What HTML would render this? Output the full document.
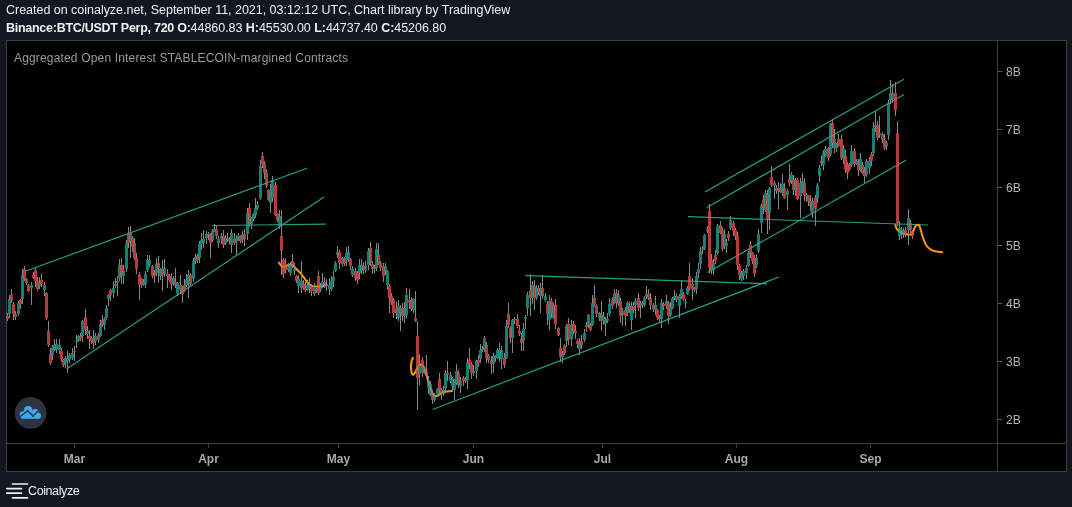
<!DOCTYPE html>
<html><head><meta charset="utf-8"><title>Coinalyze chart</title>
<style>
html,body{margin:0;padding:0;background:#131722;}
body{width:1072px;height:507px;position:relative;overflow:hidden;font-family:"Liberation Sans",sans-serif;color:#fff;}
.t{position:absolute;white-space:nowrap;line-height:1;will-change:transform;}
#l1{left:6px;top:4px;font-size:12.5px;color:#f0f0f0;letter-spacing:-0.02px;}
#l2{left:6px;top:22px;font-size:12.5px;color:#f0f0f0;letter-spacing:-0.04px;}
#l2 b.p{letter-spacing:-0.27px;}
#frame{position:absolute;left:6px;top:40px;width:1059px;height:430px;border:1px solid #3e3d3b;background:#000;}
#chart{position:absolute;left:0;top:0;width:1072px;height:507px;}
#chart text{font-family:"Liberation Sans",sans-serif;}
#brand{left:28px;top:485px;font-size:12.5px;color:#f0f0f0;letter-spacing:-0.4px;}
</style></head><body>
<div class="t" id="l1">Created on coinalyze.net, September 11, 2021, 03:12:12 UTC, Chart library by TradingView</div>
<div class="t" id="l2"><b class="p">Binance:BTC/USDT Perp, 720 O:</b>44860.83 <b>H:</b>45530.00 <b>L:</b>44737.40 <b>C:</b>45206.80</div>
<div id="frame"></div>
<svg id="chart" width="1072" height="507" viewBox="0 0 1072 507">
<!-- axes -->
<g shape-rendering="crispEdges" stroke="#3e3d3b" stroke-width="1" fill="none">
<path d="M7 443.5H1066"/>
<path d="M997.5 41V471"/>
<path d="M998 71.5H1002M998 129.5H1002M998 187.5H1002M998 245.5H1002M998 303.5H1002M998 361.5H1002M998 419.5H1002" stroke="#5a5c61"/>
<path d="M74.5 444V448M208.5 444V448M338.5 444V448M473.5 444V448M602.5 444V448M736.5 444V448M870.5 444V448"/>
</g>
<g font-size="12" fill="#b4b4b4">
<text x="1006" y="76">8B</text><text x="1006" y="134">7B</text><text x="1006" y="192">6B</text><text x="1006" y="250">5B</text><text x="1006" y="308">4B</text><text x="1006" y="366">3B</text><text x="1006" y="424">2B</text>
</g>
<g font-size="12" font-weight="bold" fill="#a8a8a8" text-anchor="middle">
<text x="74.5" y="462.5">Mar</text><text x="208.5" y="462.5">Apr</text><text x="338.5" y="462.5">May</text><text x="473.5" y="462.5">Jun</text><text x="602.5" y="462.5">Jul</text><text x="736.5" y="462.5">Aug</text><text x="870.5" y="462.5">Sep</text>
</g>
<text x="14" y="62" font-size="12" fill="#9a9a9a" textLength="334" lengthAdjust="spacing">Aggregated Open Interest STABLECOIN-margined Contracts</text>
<!-- trend lines -->
<g stroke="#24a892" stroke-opacity=".95" stroke-width="1.2" fill="none">
<path d="M26 271L307 168.3"/>
<path d="M66.5 369L324 197"/>
<path d="M212.5 225.5L326 224.2"/>
<path d="M432.5 409.5L779 277"/>
<path d="M525.5 275.7L767 283.8"/>
<path d="M688 216.7L928 225"/>
<path d="M705 192L904 79.2"/>
<path d="M707 207.5L904 94.5"/>
<path d="M707.5 272.5L906.3 160"/>
</g>
<!-- orange projections -->
<g stroke="#ff9800" stroke-width="2" fill="none" stroke-linecap="round" stroke-linejoin="round">
<path d="M278.9 262.5C279.3 263.0 280.3 265.0 281.2 265.7C282.1 266.4 283.1 267.0 284.2 266.9C285.3 266.8 286.6 265.7 287.7 265.3C288.8 264.9 289.7 264.3 290.7 264.5C291.7 264.7 292.5 265.4 293.6 266.3C294.7 267.2 296.0 268.6 297.2 269.8C298.4 271.0 299.5 272.0 300.7 273.4C301.9 274.8 303.1 276.5 304.3 278.1C305.5 279.7 306.6 281.5 307.8 282.8C309.0 284.1 310.1 285.2 311.4 285.8C312.7 286.4 314.1 286.5 315.5 286.6C316.9 286.7 318.2 286.5 319.6 286.4C321.0 286.3 322.7 286.1 323.8 285.8C324.9 285.5 325.7 284.8 326.1 284.6"/>
<path d="M412.9 357.9C412.7 358.4 411.9 359.6 411.6 361.0C411.3 362.4 411.1 364.3 411.0 366.0C410.9 367.7 411.1 369.6 411.3 371.0C411.5 372.4 411.9 373.6 412.3 374.2C412.7 374.8 413.1 374.9 413.5 374.6C413.9 374.3 414.4 373.4 415.0 372.5C415.6 371.6 416.2 370.1 416.8 369.0C417.4 367.9 418.0 366.7 418.5 366.0C419.0 365.3 419.4 364.8 420.0 364.6C420.6 364.4 421.1 364.6 421.8 365.0C422.5 365.4 423.4 366.0 424.0 367.2C424.6 368.4 424.8 369.9 425.5 372.0C426.2 374.1 427.1 377.0 428.0 380.0C428.9 383.0 430.1 387.5 431.0 390.0C431.9 392.5 432.7 393.8 433.5 394.8C434.3 395.8 435.2 396.1 436.0 396.2C436.8 396.3 437.7 395.8 438.5 395.3C439.3 394.9 439.9 394.1 441.0 393.5C442.1 392.9 443.2 392.2 445.0 391.8C446.8 391.4 450.8 391.1 452.0 391.0"/>
<path d="M895.4 225.0C895.6 225.7 896.2 227.9 896.8 229.0C897.4 230.1 898.2 230.6 899.2 231.3C900.2 232.0 901.5 232.6 902.7 233.1C903.9 233.6 905.0 234.1 906.3 234.3C907.6 234.6 909.3 234.9 910.4 234.6C911.5 234.3 912.1 233.6 912.8 232.5C913.5 231.4 913.9 229.0 914.5 227.8C915.1 226.6 915.7 225.9 916.3 225.4C916.9 224.9 917.4 224.7 917.9 224.8C918.4 224.9 919.0 225.0 919.5 226.0C920.0 227.0 920.4 228.5 921.0 230.7C921.6 232.9 922.5 236.5 923.4 239.0C924.3 241.5 925.3 243.8 926.4 245.5C927.5 247.2 928.5 248.1 929.9 249.0C931.3 249.9 932.5 250.7 934.6 251.2C936.7 251.7 941.0 252.0 942.3 252.2"/>
</g>
<!-- candles -->
<g shape-rendering="crispEdges">
<path d="M7.5 312.5V315.5M7.5 318.8V320.8M9.5 295V298.8M9.5 313.8V317.5M11.5 289V295M11.5 301.2V303.2M13.5 301.8V303.8M13.5 313.8V319.8M15.5 310.8V313.8M15.5 317V320M18.5 300.5V302.5M18.5 313.8V315.8M20.5 299V300M20.5 303.8V308.8M22.5 269V275M22.5 298.8V303.8M24.5 265.5V268.8M24.5 278.8V280.8M26.5 277.8V278.8M26.5 282.5V284.5M28.5 284V285M28.5 291.2V292.2M31.5 282V285M31.5 287.5V305M33.5 272V275M33.5 277.5V278.5M35.5 267.5V270M35.5 281.2V287.2M37.5 277.2V281.2M37.5 288.8V291.2M39.5 276.5V282.5M39.5 286.2V289.2M41.5 272.5V279.5M41.5 283.8V286.8M44.5 282V285M44.5 290V296M46.5 291.5V292.5M46.5 317.5V320M48.5 321.2V331.2M48.5 344.5V346.5M50.5 347.8V353.8M50.5 362.5V364.5M52.5 344.5V347.5M52.5 355V360M54.5 338.8V345M54.5 348.8V350.8M56.5 338.8V343.8M56.5 350V353M59.5 338.8V344.5M59.5 350V354M61.5 348.2V351.2M61.5 358.8V361.8M63.5 359V360M63.5 365V367M65.5 355.5V357.5M65.5 362.5V367.5M67.5 351.2V358M67.5 361.2V372.5M69.5 353V355M69.5 360V363M72.5 347.5V352.5M72.5 357.5V359.5M74.5 346.2V350.5M74.5 352V361.2M76.5 335V340.5M76.5 342V347.5M78.5 335.2V336.2M78.5 341.2V342.2M80.5 333.2V336.2M80.5 337.8V340.8M82.5 320.2V321.2M82.5 336.2V342.2M85.5 309.2V317M85.5 330V335M87.5 326.2V331.2M87.5 333.8V338.8M89.5 330V336.2M89.5 338.8V348.8M91.5 335.5V337.5M91.5 341.2V344.2M93.5 330V338.8M93.5 343V348.8M95.5 333.2V336.2M95.5 341.2V345.2M98.5 333V335M98.5 340V343M100.5 319.8V323.8M100.5 336.2V337.2M102.5 315V320M102.5 325V327M104.5 316.8V318.8M104.5 325V329.5M106.5 304.5V307.5M106.5 317.5V319.5M108.5 294V295M108.5 298.8V306.2M110.5 288.5V289.5M110.5 294.5V300.5M113.5 281.2V287.5M113.5 292.5V297.5M115.5 277.8V283.8M115.5 286.2V288.2M117.5 276.2V280.5M117.5 282.5V296.2M119.5 258.8V265M119.5 277.5V280.5M121.5 257.5V265M121.5 276.2V283.8M123.5 265.2V271.2M123.5 276.2V283.8M126.5 240V243.1M126.5 268.8V271.8M128.5 226.9V233.1M128.5 243.1V247.5M130.5 226.2V233.1M130.5 241.2V257.5M132.5 236.1V238.1M132.5 246.9V251.9M134.5 237.5V242.5M134.5 257.5V259.5M136.5 252.5V257.5M136.5 268.8V273.8M139.5 272V275M139.5 283.8V300M141.5 277.8V278.8M141.5 285V288M143.5 279V282M143.5 285V286M145.5 270.8V273.8M145.5 283.8V287.5M147.5 255V260M147.5 270V272M149.5 255V260M149.5 265V267M152.5 265.2V266.2M152.5 276.2V278.2M154.5 269.5V272.5M154.5 275.5V282.5M156.5 257.8V263.8M156.5 272.5V275.5M158.5 256.2V262.5M158.5 267.5V282.5M160.5 267.8V268.8M160.5 276.2V280.2M162.5 260V268.8M162.5 275V291.2M164.5 258.8V267.5M164.5 273.8V276.8M167.5 268.8V273.8M167.5 276.2V287.5M169.5 274.2V276.2M169.5 279.5V281.5M171.5 272.5V278.8M171.5 283.8V290M173.5 275.5V277.5M173.5 282.5V285.5M175.5 267.5V282M175.5 284.5V287.5M177.5 281.5V282.5M177.5 292.5V296.2M180.5 275V285M180.5 290V294M182.5 286V290M182.5 293.8V302.5M184.5 279V285M184.5 290V292M186.5 274V280M186.5 285V287M188.5 270V275M188.5 282.5V297.5M190.5 273V275M190.5 283.8V285.8M193.5 258.2V261.2M193.5 278.8V281.8M195.5 254.2V257.2M195.5 261.2V264.2M197.5 254.2V256.2M197.5 260V263M199.5 241.2V243.8M199.5 257.5V262.5M201.5 232.5V240M201.5 243.8V250M203.5 230V238.8M203.5 242.5V247.5M206.5 231.2V233.8M206.5 237.5V243.5M208.5 231.8V233.8M208.5 235.2V240.2M210.5 232.8V233.8M210.5 242.5V257.5M212.5 229.2V231.2M212.5 240V242M214.5 223.8V228.8M214.5 231.2V232.2M216.5 226.2V230M216.5 236.2V239.2M218.5 235.8V238.8M218.5 242.5V247.5M221.5 233.2V236.2M221.5 238.8V243.8M223.5 230.2V236.2M223.5 245V247.5M225.5 234.5V237.5M225.5 242.5V244.5M227.5 232.5V237.5M227.5 240V242M229.5 236.8V238.8M229.5 241.2V244.2M231.5 228.8V232.5M231.5 245V252.5M234.5 232.8V238.8M234.5 242.5V244.5M236.5 234.5V237.5M236.5 241.2V255M238.5 233.2V236.2M238.5 237.5V240.5M240.5 235.2V236.2M240.5 241.2V243.2M242.5 231.2V235M242.5 240V243M244.5 228.8V233.8M244.5 238.8V246.2M247.5 207.5V212.5M247.5 233.8V239.8M249.5 202.5V207.5M249.5 223.8V226.8M251.5 216.5V217.5M251.5 223.8V228.8M253.5 212.8V213.8M253.5 218.8V220.8M255.5 197.5V207.5M255.5 215V218M257.5 200.5V204.5M257.5 207.5V209.5M260.5 160V166.2M260.5 197.5V199.5M262.5 152V155.5M262.5 163.8V167.8M264.5 160.5V162.5M264.5 172.5V178.5M266.5 168.5V172.5M266.5 186.2V188.2M268.5 189V190M268.5 200V201M270.5 184V190M270.5 202.5V212.5M272.5 176.2V180M272.5 197.5V201.5M275.5 182V185M275.5 215V216M277.5 212.8V213.8M277.5 220V222M279.5 210.2V216.2M279.5 226.2V228.8M281.5 210V236.2M281.5 251.2V275M283.5 258V260M283.5 273.8V277.5M285.5 257.5V266.2M285.5 270V273M288.5 263V267M288.5 270V272M290.5 261.8V263.8M290.5 272.5V276.2M292.5 253.8V261.2M292.5 266.2V268.2M294.5 262.8V268.8M294.5 271.2V275.2M296.5 275.2V276.2M296.5 281.2V283.2M298.5 274.8V278.8M298.5 286.2V292.5M301.5 261.2V281.2M301.5 287.5V292.5M303.5 279.8V283.8M303.5 287.5V289.5M305.5 281.5V287.5M305.5 290V292M307.5 280V285M307.5 290V291M309.5 277.8V283.8M309.5 288.8V292.5M311.5 284V285M311.5 291.2V296.2M314.5 282.5V287.5M314.5 293.8V296.2M316.5 287.8V288.8M316.5 290.5V292.5M318.5 271.2V276.2M318.5 292.5V294.5M320.5 283V285M320.5 290V292M322.5 272.5V282M322.5 285V288M324.5 277V282M324.5 284V288M326.5 279V284M326.5 286V291.2M329.5 277.5V285M329.5 288.8V294.8M331.5 276.2V281.2M331.5 288.8V291.2M333.5 271.2V277.2M333.5 281.2V287.2M335.5 260.5V262.5M335.5 271.2V272.2M337.5 246.2V252M337.5 255V258M339.5 250V252M339.5 262.5V268.5M342.5 256.5V257.5M342.5 263.8V266.8M344.5 256.8V258.8M344.5 262.5V266.2M346.5 246.5V252.5M346.5 260V266M348.5 246.2V252M348.5 258.8V261.8M350.5 257.8V258.8M350.5 266.2V270.2M352.5 265.8V268.8M352.5 275V277M355.5 268.2V271.2M355.5 277.5V281.2M357.5 270.5V272.5M357.5 280V284M359.5 259V265M359.5 272.5V278.5M361.5 258.8V265M361.5 271.2V274.2M363.5 262.2V266.2M363.5 269.5V273.8M365.5 260.5V265.5M365.5 269.5V272.5M368.5 248.2V251.2M368.5 265V270M370.5 242V248M370.5 262.5V265.5M372.5 260.8V263.8M372.5 268.8V273.8M374.5 264.5V267.5M374.5 268.8V272.8M376.5 242.5V248.8M376.5 267.5V270.5M378.5 242.5V255M378.5 262.5V264.5M380.5 260.5V262.5M380.5 268V271.2M383.5 262.5V266.2M383.5 276.2V282.2M385.5 262.5V266.2M385.5 271.2V275.2M387.5 270.2V271.2M387.5 285V290M389.5 284.2V286.2M389.5 297.5V312.5M391.5 293.2V296.2M391.5 302.5V304.5M393.5 298V300M393.5 312.5V317.5M396.5 301.5V307.5M396.5 312.5V318.5M398.5 300V306.2M398.5 317.5V320.5M400.5 304.5V307.5M400.5 312.5V331.2M402.5 302.5V307.5M402.5 316.2V321.2M404.5 301.5V307.5M404.5 316.2V322.5M406.5 287.5V295M406.5 315V319M409.5 288.8V300M409.5 302.5V308.5M411.5 297.2V301.2M411.5 308.8V310.8M413.5 297.8V298.8M413.5 310V313M415.5 291.2V317.5M415.5 321.2V322.2M417.5 321.2V336.2M417.5 377.5V410M419.5 353.8V365M419.5 373.8V385M422.5 357V360M422.5 372.5V376.5M424.5 365.8V368.8M424.5 372.5V373.5M426.5 355V371.2M426.5 376.2V378.2M428.5 376.2V381.2M428.5 387.5V393.5M430.5 380.8V383.8M430.5 395V396M432.5 389.5V392.5M432.5 400V403.8M434.5 393V396M434.5 400V402M437.5 387.8V388.8M437.5 395V397M439.5 372.5V378.8M439.5 390V396M441.5 388V390M441.5 393.8V400M443.5 385.8V389.8M443.5 393.8V395.8M445.5 369.5V372.5M445.5 387.5V390.5M447.5 361.2V372.5M447.5 375V381M450.5 372V375M450.5 381.2V383.2M452.5 376.5V377.5M452.5 386.2V392.2M454.5 379V380M454.5 390V400M456.5 363.8V371.2M456.5 382.5V384.5M458.5 369.5V372.5M458.5 385V388M460.5 377.2V381.2M460.5 386.2V392.5M463.5 375.5V377.5M463.5 381.2V386.2M465.5 377V380M465.5 381.2V383.2M467.5 357.5V362.5M467.5 380V388.8M469.5 347.5V360M469.5 363.8V368.8M471.5 361.8V363.8M471.5 372.5V378.5M473.5 365.2V371.2M473.5 372.5V375.5M476.5 360.2V361.2M476.5 371.2V378.8M478.5 355V360M478.5 362.5V366.5M480.5 344V350M480.5 358.8V362.8M482.5 345.8V348.8M482.5 350V352M484.5 335.5V337.5M484.5 348.8V351.8M486.5 342V345M486.5 357.5V362.5M488.5 354.2V356.2M488.5 360V363M491.5 356V360M491.5 363.8V373.8M493.5 353.2V356.2M493.5 363.8V372.5M495.5 355.2V356.2M495.5 357.5V361.5M497.5 348V350M497.5 357.5V358.5M499.5 342.5V350M499.5 356.2V362.2M501.5 346V350M501.5 358.8V368.8M504.5 352.5V357.5M504.5 365V368M506.5 320.2V326.2M506.5 357.5V358.5M508.5 302.5V313.8M508.5 325V328M510.5 325.5V327.5M510.5 337.5V342.5M512.5 319V320M512.5 337.5V352.5M514.5 316.8V318.8M514.5 320V324M517.5 313.8V318.8M517.5 326.2V328.2M519.5 325.2V331.2M519.5 333.8V335.8M521.5 332.8V338.8M521.5 342.5V351.2M523.5 322.8V328.8M523.5 341.2V351.2M525.5 315V317M525.5 318.8V328.8M527.5 292V295M527.5 307.5V316.2M530.5 273.8V290M530.5 297.5V316.2M532.5 281.2V285M532.5 297.5V303.5M534.5 280V286.2M534.5 297.5V310M536.5 284.5V287.5M536.5 297.5V299.5M538.5 284.5V287.5M538.5 291.5V294.5M540.5 282.5V287.5M540.5 296.2V312.5M542.5 275V287.5M542.5 296.2V299.2M545.5 293.2V296.2M545.5 300V302M547.5 300.8V303.8M547.5 313.8V325M549.5 295.2V301.2M549.5 320V330M551.5 298.2V301.2M551.5 312.5V317.5M553.5 303V305M553.5 317.5V318.5M555.5 298.8V305M555.5 323.8V328.8M558.5 326.5V327.5M558.5 335V336M560.5 337.5V347.5M560.5 356.8V361.8M562.5 350.8V352.8M562.5 356.8V362.8M564.5 344.2V346.2M564.5 352.5V354.5M566.5 324.2V326.2M566.5 341.2V347.2M568.5 317.5V323.8M568.5 340V345M571.5 320V325M571.5 338.8V346.2M573.5 320.8V323.8M573.5 331.2V334.2M575.5 325.2V331.2M575.5 333V339M577.5 339.2V341.2M577.5 343.8V347.8M579.5 337.5V342.5M579.5 348.8V355M581.5 335.2V341.2M581.5 345V349M584.5 328.8V332.5M584.5 340V342M586.5 321.5V324.5M586.5 326.5V331.5M588.5 314V315M588.5 325V328M590.5 323V325M590.5 330V331M592.5 295V302.5M592.5 325V326M594.5 285V297.5M594.5 303.8V306.8M596.5 304.2V306.2M596.5 313.8V316.8M599.5 311.5V312.5M599.5 317.5V320.5M601.5 301.2V315M601.5 321.2V331.2M603.5 312.2V316.2M603.5 321.2V325.2M605.5 317V320M605.5 323.8V336.2M607.5 312.8V318.8M607.5 320.5V322.5M609.5 297.8V303.8M609.5 313.8V315.8M612.5 297V300M612.5 306.2V309.2M614.5 288.8V293.8M614.5 302.5V303.5M616.5 288.8V292.5M616.5 302.5V307.5M618.5 290V295M618.5 303.8V305.8M620.5 298.2V301.2M620.5 316.2V322.5M622.5 308.2V311.2M622.5 315V326.2M625.5 307V310M625.5 316.2V326.2M627.5 300.5V302.5M627.5 312.5V315.5M629.5 302.2V306.2M629.5 311.2V313.2M631.5 302.2V306.2M631.5 320V330M633.5 302.2V306.2M633.5 310V313M635.5 298.2V301.2M635.5 305V317.5M638.5 292.5V297.5M638.5 307.5V310.5M640.5 300.5V302.5M640.5 306.2V317.5M642.5 300.5V302.5M642.5 305V308M644.5 295.5V297.5M644.5 305V307M646.5 286.2V293.8M646.5 296.2V299.2M648.5 288.8V293.8M648.5 297.5V299.5M650.5 292.5V297.5M650.5 305V310M653.5 303V305M653.5 308.8V311.8M655.5 296.2V305M655.5 310V315M657.5 309V310M657.5 317.5V319.5M659.5 314.5V317.5M659.5 318.8V322.8M661.5 298.5V302.5M661.5 318.8V327.5M663.5 301.8V303.8M663.5 306.2V310.2M666.5 295V301.2M666.5 306.2V309.2M668.5 300.5V302.5M668.5 316.2V323.8M670.5 301.5V307.5M670.5 315V317M672.5 296.5V297.5M672.5 307.5V308.5M674.5 290.2V296.2M674.5 297.5V299.5M676.5 293.2V296.2M676.5 300V302M679.5 294.2V296.2M679.5 306.2V317.5M681.5 280V288.8M681.5 296.2V299.2M683.5 291.8V293.8M683.5 298.8V300.8M685.5 299V302M685.5 303V307.5M687.5 285.5V287.5M687.5 293.8V294.8M689.5 262.5V276.2M689.5 288.8V290.8M692.5 277.8V283.8M692.5 288.8V300M694.5 286.8V288.8M694.5 290.2V292.2M696.5 272.2V276.2M696.5 288.8V293.8M698.5 262.8V268.8M698.5 272.5V277.5M700.5 247.2V251.2M700.5 263.8V268.8M702.5 245.8V248.8M702.5 250V254M704.5 234V235M704.5 248.8V249.8M707.5 225.8V228.8M707.5 231.2V233.2M709.5 203.8V211.2M709.5 267.5V272.5M711.5 254V260M711.5 270V274M713.5 258.5V262.5M713.5 270V275M715.5 250V255M715.5 261.2V264.2M717.5 224.2V226.2M717.5 252.5V254.5M720.5 221.2V225M720.5 232.5V233.5M722.5 227.2V231.2M722.5 248.8V250.8M724.5 228.8V233.8M724.5 246.2V249.2M726.5 238.5V242.5M726.5 246.2V252.5M728.5 230.8V233.8M728.5 237.5V240.5M730.5 216.2V220M730.5 227.5V229.5M733.5 220.5V222.5M733.5 231.2V236.2M735.5 228V230M735.5 236.2V240.2M737.5 232.2V236.2M737.5 265V270M739.5 264.2V266.2M739.5 275V280M741.5 270.8V273.8M741.5 278.8V280.8M743.5 269.2V271.2M743.5 276.2V280.2M746.5 264.5V267.5M746.5 272.5V278.5M748.5 250.5V252.5M748.5 266.2V267.2M750.5 241.2V245M750.5 253.8V257.8M752.5 251.5V252.5M752.5 261.2V264.2M754.5 254.5V257.5M754.5 273.8V276.8M756.5 253.5V257.5M756.5 265V268M758.5 228.8V233.8M758.5 251.2V253.2M761.5 204.2V206.2M761.5 222.5V232.5M763.5 195V200M763.5 207.5V213.5M765.5 189.5V192.5M765.5 210V212M767.5 190V195M767.5 218.8V233.8M769.5 186.5V187.5M769.5 212.5V230M771.5 166.2V177M771.5 185V187M774.5 180.5V182.5M774.5 186.2V198.8M776.5 184.5V187.5M776.5 191.2V194.2M778.5 181.5V187.5M778.5 191.2V208.8M780.5 182.5V187.5M780.5 191.5V192.5M782.5 173.8V183.8M782.5 192.5V195.5M784.5 182.5V187.5M784.5 197.5V198.5M787.5 189.2V191.2M787.5 195V210M789.5 163.8V178.8M789.5 182.5V185.5M791.5 172V175M791.5 181.2V184.2M793.5 174.8V178.8M793.5 190V195M795.5 178V180M795.5 190V196M797.5 178V180M797.5 198.8V199.8M800.5 177.5V182.5M800.5 196.2V217.5M802.5 172.5V181.2M802.5 191.2V193.2M804.5 177.5V182.5M804.5 195V201M806.5 193V195M806.5 196.2V202.2M808.5 195.2V196.2M808.5 201.2V206.2M810.5 195.2V201.2M810.5 206.2V211.2M812.5 198.2V201.2M812.5 212.5V217.5M815.5 194.5V197.5M815.5 208.8V226.2M817.5 182.5V185M817.5 198.8V202.8M819.5 164.5V167.5M819.5 176.2V182.2M821.5 156.2V161.2M821.5 162.5V165.5M823.5 149.5V152.5M823.5 165V170M825.5 145.8V148.8M825.5 156.2V157.2M828.5 146.5V147.5M828.5 157.5V160.5M830.5 122.8V123.8M830.5 153.8V155.8M832.5 118.8V123M832.5 142.5V147.5M834.5 128.8V138.8M834.5 147.5V152.5M836.5 142.8V143.8M836.5 147.5V151.5M838.5 133.8V138.8M838.5 146.2V147.2M841.5 134.8V138.8M841.5 157.5V159.5M843.5 144.5V147.5M843.5 158.8V163.8M845.5 150.2V156.2M845.5 170V173M847.5 162V165M847.5 172.5V178.8M849.5 162.8V163.8M849.5 168.8V170.8M851.5 145.2V151.2M851.5 165V167M854.5 147.5V151.2M854.5 163.8V166.8M856.5 159.2V161.2M856.5 163.8V164.8M858.5 158.8V163.8M858.5 170V176M860.5 152.5V158.8M860.5 170V172M862.5 162V165M862.5 172.5V173.5M864.5 167.2V171.2M864.5 176.2V182.5M866.5 159.2V161.2M866.5 175V177M869.5 157.2V161.2M869.5 167.5V173.5M871.5 151.8V153.8M871.5 161.2V166.2M873.5 121.5V127.5M873.5 152.5V155.5M875.5 111.2V125M875.5 127V132M877.5 121V125M877.5 137.5V139.5M879.5 116.2V132.5M879.5 135V138M882.5 131.8V133.8M882.5 140V143M884.5 134V140M884.5 147.5V150M886.5 140.5V142.5M886.5 146.2V150M888.5 99.5V102.5M888.5 135V140M890.5 80V92.5M890.5 100V104M892.5 83.8V93M892.5 98.8V102.5M895.5 82V92.5M895.5 110V116.2M897.5 121.2V132.5M897.5 222.5V225.5M899.5 221.2V227.5M899.5 236.2V240M901.5 227V230M901.5 233.8V238.8M903.5 228.2V231.2M903.5 234.5V237.5M905.5 227V230M905.5 233.8V236.8M908.5 208.8V217.5M908.5 230V245M910.5 219.5V222.5M910.5 230V233M912.5 230.2V231.2M912.5 236.2V238.8" stroke="#85878c" stroke-width="1" fill="none"/>
<g fill-opacity=".74">
<rect x="6" y="315.5" width="3" height="3.3" fill="#ef5350"/>
<rect x="8" y="298.8" width="3" height="15" fill="#26a69a"/>
<rect x="10" y="295" width="3" height="6.2" fill="#ef5350"/>
<rect x="12" y="303.8" width="3" height="10" fill="#ef5350"/>
<rect x="14" y="313.8" width="3" height="3.2" fill="#ef5350"/>
<rect x="17" y="302.5" width="3" height="11.3" fill="#26a69a"/>
<rect x="19" y="300" width="3" height="3.8" fill="#ef5350"/>
<rect x="21" y="275" width="3" height="23.8" fill="#26a69a"/>
<rect x="23" y="268.8" width="3" height="10" fill="#ef5350"/>
<rect x="25" y="278.8" width="3" height="3.7" fill="#ef5350"/>
<rect x="27" y="285" width="3" height="6.2" fill="#ef5350"/>
<rect x="30" y="285" width="3" height="2.5" fill="#26a69a"/>
<rect x="32" y="275" width="3" height="2.5" fill="#ef5350"/>
<rect x="34" y="270" width="3" height="11.2" fill="#ef5350"/>
<rect x="36" y="281.2" width="3" height="7.6" fill="#ef5350"/>
<rect x="38" y="282.5" width="3" height="3.7" fill="#26a69a"/>
<rect x="40" y="279.5" width="3" height="4.3" fill="#ef5350"/>
<rect x="43" y="285" width="3" height="5" fill="#26a69a"/>
<rect x="45" y="292.5" width="3" height="25" fill="#ef5350"/>
<rect x="47" y="331.2" width="3" height="13.3" fill="#ef5350"/>
<rect x="49" y="353.8" width="3" height="8.7" fill="#ef5350"/>
<rect x="51" y="347.5" width="3" height="7.5" fill="#26a69a"/>
<rect x="53" y="345" width="3" height="3.8" fill="#26a69a"/>
<rect x="55" y="343.8" width="3" height="6.2" fill="#26a69a"/>
<rect x="58" y="344.5" width="3" height="5.5" fill="#26a69a"/>
<rect x="60" y="351.2" width="3" height="7.6" fill="#ef5350"/>
<rect x="62" y="360" width="3" height="5" fill="#ef5350"/>
<rect x="64" y="357.5" width="3" height="5" fill="#26a69a"/>
<rect x="66" y="358" width="3" height="3.2" fill="#26a69a"/>
<rect x="68" y="355" width="3" height="5" fill="#26a69a"/>
<rect x="71" y="352.5" width="3" height="5" fill="#26a69a"/>
<rect x="73" y="350.5" width="3" height="1.5" fill="#ef5350"/>
<rect x="75" y="340.5" width="3" height="1.5" fill="#ef5350"/>
<rect x="77" y="336.2" width="3" height="5" fill="#26a69a"/>
<rect x="79" y="336.2" width="3" height="1.6" fill="#ef5350"/>
<rect x="81" y="321.2" width="3" height="15" fill="#26a69a"/>
<rect x="84" y="317" width="3" height="13" fill="#ef5350"/>
<rect x="86" y="331.2" width="3" height="2.6" fill="#26a69a"/>
<rect x="88" y="336.2" width="3" height="2.6" fill="#ef5350"/>
<rect x="90" y="337.5" width="3" height="3.7" fill="#ef5350"/>
<rect x="92" y="338.8" width="3" height="4.2" fill="#ef5350"/>
<rect x="94" y="336.2" width="3" height="5" fill="#26a69a"/>
<rect x="97" y="335" width="3" height="5" fill="#ef5350"/>
<rect x="99" y="323.8" width="3" height="12.4" fill="#26a69a"/>
<rect x="101" y="320" width="3" height="5" fill="#ef5350"/>
<rect x="103" y="318.8" width="3" height="6.2" fill="#26a69a"/>
<rect x="105" y="307.5" width="3" height="10" fill="#26a69a"/>
<rect x="107" y="295" width="3" height="3.8" fill="#26a69a"/>
<rect x="109" y="289.5" width="3" height="5" fill="#ef5350"/>
<rect x="112" y="287.5" width="3" height="5" fill="#26a69a"/>
<rect x="114" y="283.8" width="3" height="2.4" fill="#26a69a"/>
<rect x="116" y="280.5" width="3" height="2" fill="#26a69a"/>
<rect x="118" y="265" width="3" height="12.5" fill="#26a69a"/>
<rect x="120" y="265" width="3" height="11.2" fill="#ef5350"/>
<rect x="122" y="271.2" width="3" height="5" fill="#26a69a"/>
<rect x="125" y="243.1" width="3" height="25.7" fill="#26a69a"/>
<rect x="127" y="233.1" width="3" height="10" fill="#ef5350"/>
<rect x="129" y="233.1" width="3" height="8.1" fill="#26a69a"/>
<rect x="131" y="238.1" width="3" height="8.8" fill="#ef5350"/>
<rect x="133" y="242.5" width="3" height="15" fill="#ef5350"/>
<rect x="135" y="257.5" width="3" height="11.3" fill="#ef5350"/>
<rect x="138" y="275" width="3" height="8.8" fill="#ef5350"/>
<rect x="140" y="278.8" width="3" height="6.2" fill="#ef5350"/>
<rect x="142" y="282" width="3" height="3" fill="#26a69a"/>
<rect x="144" y="273.8" width="3" height="10" fill="#26a69a"/>
<rect x="146" y="260" width="3" height="10" fill="#26a69a"/>
<rect x="148" y="260" width="3" height="5" fill="#26a69a"/>
<rect x="151" y="266.2" width="3" height="10" fill="#ef5350"/>
<rect x="153" y="272.5" width="3" height="3" fill="#ef5350"/>
<rect x="155" y="263.8" width="3" height="8.7" fill="#26a69a"/>
<rect x="157" y="262.5" width="3" height="5" fill="#ef5350"/>
<rect x="159" y="268.8" width="3" height="7.4" fill="#26a69a"/>
<rect x="161" y="268.8" width="3" height="6.2" fill="#ef5350"/>
<rect x="163" y="267.5" width="3" height="6.3" fill="#26a69a"/>
<rect x="166" y="273.8" width="3" height="2.4" fill="#ef5350"/>
<rect x="168" y="276.2" width="3" height="3.3" fill="#ef5350"/>
<rect x="170" y="278.8" width="3" height="5" fill="#ef5350"/>
<rect x="172" y="277.5" width="3" height="5" fill="#26a69a"/>
<rect x="174" y="282" width="3" height="2.5" fill="#ef5350"/>
<rect x="176" y="282.5" width="3" height="10" fill="#26a69a"/>
<rect x="179" y="285" width="3" height="5" fill="#ef5350"/>
<rect x="181" y="290" width="3" height="3.8" fill="#ef5350"/>
<rect x="183" y="285" width="3" height="5" fill="#ef5350"/>
<rect x="185" y="280" width="3" height="5" fill="#26a69a"/>
<rect x="187" y="275" width="3" height="7.5" fill="#26a69a"/>
<rect x="189" y="275" width="3" height="8.8" fill="#ef5350"/>
<rect x="192" y="261.2" width="3" height="17.6" fill="#26a69a"/>
<rect x="194" y="257.2" width="3" height="4" fill="#26a69a"/>
<rect x="196" y="256.2" width="3" height="3.8" fill="#ef5350"/>
<rect x="198" y="243.8" width="3" height="13.7" fill="#26a69a"/>
<rect x="200" y="240" width="3" height="3.8" fill="#26a69a"/>
<rect x="202" y="238.8" width="3" height="3.7" fill="#26a69a"/>
<rect x="205" y="233.8" width="3" height="3.7" fill="#26a69a"/>
<rect x="207" y="233.8" width="3" height="1.4" fill="#ef5350"/>
<rect x="209" y="233.8" width="3" height="8.7" fill="#ef5350"/>
<rect x="211" y="231.2" width="3" height="8.8" fill="#26a69a"/>
<rect x="213" y="228.8" width="3" height="2.4" fill="#26a69a"/>
<rect x="215" y="230" width="3" height="6.2" fill="#ef5350"/>
<rect x="217" y="238.8" width="3" height="3.7" fill="#26a69a"/>
<rect x="220" y="236.2" width="3" height="2.6" fill="#26a69a"/>
<rect x="222" y="236.2" width="3" height="8.8" fill="#ef5350"/>
<rect x="224" y="237.5" width="3" height="5" fill="#26a69a"/>
<rect x="226" y="237.5" width="3" height="2.5" fill="#ef5350"/>
<rect x="228" y="238.8" width="3" height="2.4" fill="#ef5350"/>
<rect x="230" y="232.5" width="3" height="12.5" fill="#26a69a"/>
<rect x="233" y="238.8" width="3" height="3.7" fill="#ef5350"/>
<rect x="235" y="237.5" width="3" height="3.7" fill="#26a69a"/>
<rect x="237" y="236.2" width="3" height="1.3" fill="#26a69a"/>
<rect x="239" y="236.2" width="3" height="5" fill="#ef5350"/>
<rect x="241" y="235" width="3" height="5" fill="#26a69a"/>
<rect x="243" y="233.8" width="3" height="5" fill="#ef5350"/>
<rect x="246" y="212.5" width="3" height="21.3" fill="#26a69a"/>
<rect x="248" y="207.5" width="3" height="16.3" fill="#ef5350"/>
<rect x="250" y="217.5" width="3" height="6.3" fill="#26a69a"/>
<rect x="252" y="213.8" width="3" height="5" fill="#26a69a"/>
<rect x="254" y="207.5" width="3" height="7.5" fill="#26a69a"/>
<rect x="256" y="204.5" width="3" height="3" fill="#26a69a"/>
<rect x="259" y="166.2" width="3" height="31.3" fill="#26a69a"/>
<rect x="261" y="155.5" width="3" height="8.3" fill="#ef5350"/>
<rect x="263" y="162.5" width="3" height="10" fill="#ef5350"/>
<rect x="265" y="172.5" width="3" height="13.7" fill="#ef5350"/>
<rect x="267" y="190" width="3" height="10" fill="#ef5350"/>
<rect x="269" y="190" width="3" height="12.5" fill="#26a69a"/>
<rect x="271" y="180" width="3" height="17.5" fill="#26a69a"/>
<rect x="274" y="185" width="3" height="30" fill="#ef5350"/>
<rect x="276" y="213.8" width="3" height="6.2" fill="#ef5350"/>
<rect x="278" y="216.2" width="3" height="10" fill="#26a69a"/>
<rect x="280" y="236.2" width="3" height="15" fill="#ef5350"/>
<rect x="282" y="260" width="3" height="13.8" fill="#ef5350"/>
<rect x="284" y="266.2" width="3" height="3.8" fill="#ef5350"/>
<rect x="287" y="267" width="3" height="3" fill="#26a69a"/>
<rect x="289" y="263.8" width="3" height="8.7" fill="#26a69a"/>
<rect x="291" y="261.2" width="3" height="5" fill="#ef5350"/>
<rect x="293" y="268.8" width="3" height="2.4" fill="#26a69a"/>
<rect x="295" y="276.2" width="3" height="5" fill="#ef5350"/>
<rect x="297" y="278.8" width="3" height="7.4" fill="#26a69a"/>
<rect x="300" y="281.2" width="3" height="6.3" fill="#26a69a"/>
<rect x="302" y="283.8" width="3" height="3.7" fill="#ef5350"/>
<rect x="304" y="287.5" width="3" height="2.5" fill="#ef5350"/>
<rect x="306" y="285" width="3" height="5" fill="#26a69a"/>
<rect x="308" y="283.8" width="3" height="5" fill="#26a69a"/>
<rect x="310" y="285" width="3" height="6.2" fill="#ef5350"/>
<rect x="313" y="287.5" width="3" height="6.3" fill="#26a69a"/>
<rect x="315" y="288.8" width="3" height="1.7" fill="#ef5350"/>
<rect x="317" y="276.2" width="3" height="16.3" fill="#ef5350"/>
<rect x="319" y="285" width="3" height="5" fill="#26a69a"/>
<rect x="321" y="282" width="3" height="3" fill="#26a69a"/>
<rect x="323" y="282" width="3" height="2" fill="#ef5350"/>
<rect x="325" y="284" width="3" height="2" fill="#ef5350"/>
<rect x="328" y="285" width="3" height="3.8" fill="#26a69a"/>
<rect x="330" y="281.2" width="3" height="7.6" fill="#26a69a"/>
<rect x="332" y="277.2" width="3" height="4" fill="#26a69a"/>
<rect x="334" y="262.5" width="3" height="8.7" fill="#26a69a"/>
<rect x="336" y="252" width="3" height="3" fill="#26a69a"/>
<rect x="338" y="252" width="3" height="10.5" fill="#ef5350"/>
<rect x="341" y="257.5" width="3" height="6.3" fill="#26a69a"/>
<rect x="343" y="258.8" width="3" height="3.7" fill="#ef5350"/>
<rect x="345" y="252.5" width="3" height="7.5" fill="#26a69a"/>
<rect x="347" y="252" width="3" height="6.8" fill="#26a69a"/>
<rect x="349" y="258.8" width="3" height="7.4" fill="#ef5350"/>
<rect x="351" y="268.8" width="3" height="6.2" fill="#26a69a"/>
<rect x="354" y="271.2" width="3" height="6.3" fill="#ef5350"/>
<rect x="356" y="272.5" width="3" height="7.5" fill="#ef5350"/>
<rect x="358" y="265" width="3" height="7.5" fill="#26a69a"/>
<rect x="360" y="265" width="3" height="6.2" fill="#26a69a"/>
<rect x="362" y="266.2" width="3" height="3.3" fill="#ef5350"/>
<rect x="364" y="265.5" width="3" height="4" fill="#26a69a"/>
<rect x="367" y="251.2" width="3" height="13.8" fill="#26a69a"/>
<rect x="369" y="248" width="3" height="14.5" fill="#ef5350"/>
<rect x="371" y="263.8" width="3" height="5" fill="#ef5350"/>
<rect x="373" y="267.5" width="3" height="1.3" fill="#26a69a"/>
<rect x="375" y="248.8" width="3" height="18.7" fill="#26a69a"/>
<rect x="377" y="255" width="3" height="7.5" fill="#ef5350"/>
<rect x="379" y="262.5" width="3" height="5.5" fill="#ef5350"/>
<rect x="382" y="266.2" width="3" height="10" fill="#ef5350"/>
<rect x="384" y="266.2" width="3" height="5" fill="#26a69a"/>
<rect x="386" y="271.2" width="3" height="13.8" fill="#26a69a"/>
<rect x="388" y="286.2" width="3" height="11.3" fill="#ef5350"/>
<rect x="390" y="296.2" width="3" height="6.3" fill="#ef5350"/>
<rect x="392" y="300" width="3" height="12.5" fill="#ef5350"/>
<rect x="395" y="307.5" width="3" height="5" fill="#ef5350"/>
<rect x="397" y="306.2" width="3" height="11.3" fill="#26a69a"/>
<rect x="399" y="307.5" width="3" height="5" fill="#26a69a"/>
<rect x="401" y="307.5" width="3" height="8.7" fill="#ef5350"/>
<rect x="403" y="307.5" width="3" height="8.7" fill="#26a69a"/>
<rect x="405" y="295" width="3" height="20" fill="#26a69a"/>
<rect x="408" y="300" width="3" height="2.5" fill="#ef5350"/>
<rect x="410" y="301.2" width="3" height="7.6" fill="#ef5350"/>
<rect x="412" y="298.8" width="3" height="11.2" fill="#26a69a"/>
<rect x="414" y="317.5" width="3" height="3.7" fill="#ef5350"/>
<rect x="416" y="336.2" width="3" height="41.3" fill="#ef5350"/>
<rect x="418" y="365" width="3" height="8.8" fill="#26a69a"/>
<rect x="421" y="360" width="3" height="12.5" fill="#ef5350"/>
<rect x="423" y="368.8" width="3" height="3.7" fill="#26a69a"/>
<rect x="425" y="371.2" width="3" height="5" fill="#ef5350"/>
<rect x="427" y="381.2" width="3" height="6.3" fill="#26a69a"/>
<rect x="429" y="383.8" width="3" height="11.2" fill="#26a69a"/>
<rect x="431" y="392.5" width="3" height="7.5" fill="#ef5350"/>
<rect x="433" y="396" width="3" height="4" fill="#26a69a"/>
<rect x="436" y="388.8" width="3" height="6.2" fill="#26a69a"/>
<rect x="438" y="378.8" width="3" height="11.2" fill="#ef5350"/>
<rect x="440" y="390" width="3" height="3.8" fill="#ef5350"/>
<rect x="442" y="389.8" width="3" height="4" fill="#26a69a"/>
<rect x="444" y="372.5" width="3" height="15" fill="#26a69a"/>
<rect x="446" y="372.5" width="3" height="2.5" fill="#ef5350"/>
<rect x="449" y="375" width="3" height="6.2" fill="#26a69a"/>
<rect x="451" y="377.5" width="3" height="8.7" fill="#26a69a"/>
<rect x="453" y="380" width="3" height="10" fill="#26a69a"/>
<rect x="455" y="371.2" width="3" height="11.3" fill="#26a69a"/>
<rect x="457" y="372.5" width="3" height="12.5" fill="#ef5350"/>
<rect x="459" y="381.2" width="3" height="5" fill="#26a69a"/>
<rect x="462" y="377.5" width="3" height="3.7" fill="#ef5350"/>
<rect x="464" y="380" width="3" height="1.2" fill="#26a69a"/>
<rect x="466" y="362.5" width="3" height="17.5" fill="#26a69a"/>
<rect x="468" y="360" width="3" height="3.8" fill="#ef5350"/>
<rect x="470" y="363.8" width="3" height="8.7" fill="#ef5350"/>
<rect x="472" y="371.2" width="3" height="1.3" fill="#26a69a"/>
<rect x="475" y="361.2" width="3" height="10" fill="#26a69a"/>
<rect x="477" y="360" width="3" height="2.5" fill="#ef5350"/>
<rect x="479" y="350" width="3" height="8.8" fill="#26a69a"/>
<rect x="481" y="348.8" width="3" height="1.2" fill="#26a69a"/>
<rect x="483" y="337.5" width="3" height="11.3" fill="#26a69a"/>
<rect x="485" y="345" width="3" height="12.5" fill="#ef5350"/>
<rect x="487" y="356.2" width="3" height="3.8" fill="#ef5350"/>
<rect x="490" y="360" width="3" height="3.8" fill="#ef5350"/>
<rect x="492" y="356.2" width="3" height="7.6" fill="#26a69a"/>
<rect x="494" y="356.2" width="3" height="1.3" fill="#ef5350"/>
<rect x="496" y="350" width="3" height="7.5" fill="#26a69a"/>
<rect x="498" y="350" width="3" height="6.2" fill="#26a69a"/>
<rect x="500" y="350" width="3" height="8.8" fill="#26a69a"/>
<rect x="503" y="357.5" width="3" height="7.5" fill="#ef5350"/>
<rect x="505" y="326.2" width="3" height="31.3" fill="#26a69a"/>
<rect x="507" y="313.8" width="3" height="11.2" fill="#ef5350"/>
<rect x="509" y="327.5" width="3" height="10" fill="#ef5350"/>
<rect x="511" y="320" width="3" height="17.5" fill="#26a69a"/>
<rect x="513" y="318.8" width="3" height="1.2" fill="#26a69a"/>
<rect x="516" y="318.8" width="3" height="7.4" fill="#ef5350"/>
<rect x="518" y="331.2" width="3" height="2.6" fill="#ef5350"/>
<rect x="520" y="338.8" width="3" height="3.7" fill="#ef5350"/>
<rect x="522" y="328.8" width="3" height="12.4" fill="#26a69a"/>
<rect x="524" y="317" width="3" height="1.8" fill="#26a69a"/>
<rect x="526" y="295" width="3" height="12.5" fill="#26a69a"/>
<rect x="529" y="290" width="3" height="7.5" fill="#ef5350"/>
<rect x="531" y="285" width="3" height="12.5" fill="#26a69a"/>
<rect x="533" y="286.2" width="3" height="11.3" fill="#ef5350"/>
<rect x="535" y="287.5" width="3" height="10" fill="#26a69a"/>
<rect x="537" y="287.5" width="3" height="4" fill="#ef5350"/>
<rect x="539" y="287.5" width="3" height="8.7" fill="#26a69a"/>
<rect x="541" y="287.5" width="3" height="8.7" fill="#ef5350"/>
<rect x="544" y="296.2" width="3" height="3.8" fill="#26a69a"/>
<rect x="546" y="303.8" width="3" height="10" fill="#ef5350"/>
<rect x="548" y="301.2" width="3" height="18.8" fill="#26a69a"/>
<rect x="550" y="301.2" width="3" height="11.3" fill="#ef5350"/>
<rect x="552" y="305" width="3" height="12.5" fill="#26a69a"/>
<rect x="554" y="305" width="3" height="18.8" fill="#ef5350"/>
<rect x="557" y="327.5" width="3" height="7.5" fill="#ef5350"/>
<rect x="559" y="347.5" width="3" height="9.3" fill="#ef5350"/>
<rect x="561" y="352.8" width="3" height="4" fill="#26a69a"/>
<rect x="563" y="346.2" width="3" height="6.3" fill="#ef5350"/>
<rect x="565" y="326.2" width="3" height="15" fill="#26a69a"/>
<rect x="567" y="323.8" width="3" height="16.2" fill="#ef5350"/>
<rect x="570" y="325" width="3" height="13.8" fill="#26a69a"/>
<rect x="572" y="323.8" width="3" height="7.4" fill="#ef5350"/>
<rect x="574" y="331.2" width="3" height="1.8" fill="#ef5350"/>
<rect x="576" y="341.2" width="3" height="2.6" fill="#ef5350"/>
<rect x="578" y="342.5" width="3" height="6.3" fill="#26a69a"/>
<rect x="580" y="341.2" width="3" height="3.8" fill="#ef5350"/>
<rect x="583" y="332.5" width="3" height="7.5" fill="#26a69a"/>
<rect x="585" y="324.5" width="3" height="2" fill="#ef5350"/>
<rect x="587" y="315" width="3" height="10" fill="#26a69a"/>
<rect x="589" y="325" width="3" height="5" fill="#ef5350"/>
<rect x="591" y="302.5" width="3" height="22.5" fill="#26a69a"/>
<rect x="593" y="297.5" width="3" height="6.3" fill="#ef5350"/>
<rect x="595" y="306.2" width="3" height="7.6" fill="#ef5350"/>
<rect x="598" y="312.5" width="3" height="5" fill="#26a69a"/>
<rect x="600" y="315" width="3" height="6.2" fill="#ef5350"/>
<rect x="602" y="316.2" width="3" height="5" fill="#26a69a"/>
<rect x="604" y="320" width="3" height="3.8" fill="#26a69a"/>
<rect x="606" y="318.8" width="3" height="1.7" fill="#ef5350"/>
<rect x="608" y="303.8" width="3" height="10" fill="#26a69a"/>
<rect x="611" y="300" width="3" height="6.2" fill="#ef5350"/>
<rect x="613" y="293.8" width="3" height="8.7" fill="#26a69a"/>
<rect x="615" y="292.5" width="3" height="10" fill="#ef5350"/>
<rect x="617" y="295" width="3" height="8.8" fill="#26a69a"/>
<rect x="619" y="301.2" width="3" height="15" fill="#ef5350"/>
<rect x="621" y="311.2" width="3" height="3.8" fill="#26a69a"/>
<rect x="624" y="310" width="3" height="6.2" fill="#ef5350"/>
<rect x="626" y="302.5" width="3" height="10" fill="#26a69a"/>
<rect x="628" y="306.2" width="3" height="5" fill="#ef5350"/>
<rect x="630" y="306.2" width="3" height="13.8" fill="#26a69a"/>
<rect x="632" y="306.2" width="3" height="3.8" fill="#ef5350"/>
<rect x="634" y="301.2" width="3" height="3.8" fill="#26a69a"/>
<rect x="637" y="297.5" width="3" height="10" fill="#ef5350"/>
<rect x="639" y="302.5" width="3" height="3.7" fill="#26a69a"/>
<rect x="641" y="302.5" width="3" height="2.5" fill="#ef5350"/>
<rect x="643" y="297.5" width="3" height="7.5" fill="#26a69a"/>
<rect x="645" y="293.8" width="3" height="2.4" fill="#26a69a"/>
<rect x="647" y="293.8" width="3" height="3.7" fill="#ef5350"/>
<rect x="649" y="297.5" width="3" height="7.5" fill="#ef5350"/>
<rect x="652" y="305" width="3" height="3.8" fill="#ef5350"/>
<rect x="654" y="305" width="3" height="5" fill="#26a69a"/>
<rect x="656" y="310" width="3" height="7.5" fill="#ef5350"/>
<rect x="658" y="317.5" width="3" height="1.3" fill="#ef5350"/>
<rect x="660" y="302.5" width="3" height="16.3" fill="#26a69a"/>
<rect x="662" y="303.8" width="3" height="2.4" fill="#ef5350"/>
<rect x="665" y="301.2" width="3" height="5" fill="#26a69a"/>
<rect x="667" y="302.5" width="3" height="13.7" fill="#ef5350"/>
<rect x="669" y="307.5" width="3" height="7.5" fill="#26a69a"/>
<rect x="671" y="297.5" width="3" height="10" fill="#26a69a"/>
<rect x="673" y="296.2" width="3" height="1.3" fill="#26a69a"/>
<rect x="675" y="296.2" width="3" height="3.8" fill="#ef5350"/>
<rect x="678" y="296.2" width="3" height="10" fill="#26a69a"/>
<rect x="680" y="288.8" width="3" height="7.4" fill="#26a69a"/>
<rect x="682" y="293.8" width="3" height="5" fill="#ef5350"/>
<rect x="684" y="302" width="3" height="1" fill="#26a69a"/>
<rect x="686" y="287.5" width="3" height="6.3" fill="#26a69a"/>
<rect x="688" y="276.2" width="3" height="12.6" fill="#ef5350"/>
<rect x="691" y="283.8" width="3" height="5" fill="#ef5350"/>
<rect x="693" y="288.8" width="3" height="1.4" fill="#ef5350"/>
<rect x="695" y="276.2" width="3" height="12.6" fill="#26a69a"/>
<rect x="697" y="268.8" width="3" height="3.7" fill="#26a69a"/>
<rect x="699" y="251.2" width="3" height="12.6" fill="#26a69a"/>
<rect x="701" y="248.8" width="3" height="1.2" fill="#ef5350"/>
<rect x="703" y="235" width="3" height="13.8" fill="#26a69a"/>
<rect x="706" y="228.8" width="3" height="2.4" fill="#26a69a"/>
<rect x="708" y="211.2" width="3" height="56.3" fill="#ef5350"/>
<rect x="710" y="260" width="3" height="10" fill="#ef5350"/>
<rect x="712" y="262.5" width="3" height="7.5" fill="#26a69a"/>
<rect x="714" y="255" width="3" height="6.2" fill="#ef5350"/>
<rect x="716" y="226.2" width="3" height="26.3" fill="#26a69a"/>
<rect x="719" y="225" width="3" height="7.5" fill="#ef5350"/>
<rect x="721" y="231.2" width="3" height="17.6" fill="#ef5350"/>
<rect x="723" y="233.8" width="3" height="12.4" fill="#26a69a"/>
<rect x="725" y="242.5" width="3" height="3.7" fill="#26a69a"/>
<rect x="727" y="233.8" width="3" height="3.7" fill="#ef5350"/>
<rect x="729" y="220" width="3" height="7.5" fill="#26a69a"/>
<rect x="732" y="222.5" width="3" height="8.7" fill="#ef5350"/>
<rect x="734" y="230" width="3" height="6.2" fill="#ef5350"/>
<rect x="736" y="236.2" width="3" height="28.8" fill="#ef5350"/>
<rect x="738" y="266.2" width="3" height="8.8" fill="#ef5350"/>
<rect x="740" y="273.8" width="3" height="5" fill="#26a69a"/>
<rect x="742" y="271.2" width="3" height="5" fill="#26a69a"/>
<rect x="745" y="267.5" width="3" height="5" fill="#26a69a"/>
<rect x="747" y="252.5" width="3" height="13.7" fill="#26a69a"/>
<rect x="749" y="245" width="3" height="8.8" fill="#ef5350"/>
<rect x="751" y="252.5" width="3" height="8.7" fill="#ef5350"/>
<rect x="753" y="257.5" width="3" height="16.3" fill="#ef5350"/>
<rect x="755" y="257.5" width="3" height="7.5" fill="#26a69a"/>
<rect x="757" y="233.8" width="3" height="17.4" fill="#26a69a"/>
<rect x="760" y="206.2" width="3" height="16.3" fill="#26a69a"/>
<rect x="762" y="200" width="3" height="7.5" fill="#ef5350"/>
<rect x="764" y="192.5" width="3" height="17.5" fill="#26a69a"/>
<rect x="766" y="195" width="3" height="23.8" fill="#ef5350"/>
<rect x="768" y="187.5" width="3" height="25" fill="#26a69a"/>
<rect x="770" y="177" width="3" height="8" fill="#ef5350"/>
<rect x="773" y="182.5" width="3" height="3.7" fill="#26a69a"/>
<rect x="775" y="187.5" width="3" height="3.7" fill="#ef5350"/>
<rect x="777" y="187.5" width="3" height="3.7" fill="#26a69a"/>
<rect x="779" y="187.5" width="3" height="4" fill="#ef5350"/>
<rect x="781" y="183.8" width="3" height="8.7" fill="#26a69a"/>
<rect x="783" y="187.5" width="3" height="10" fill="#ef5350"/>
<rect x="786" y="191.2" width="3" height="3.8" fill="#26a69a"/>
<rect x="788" y="178.8" width="3" height="3.7" fill="#ef5350"/>
<rect x="790" y="175" width="3" height="6.2" fill="#26a69a"/>
<rect x="792" y="178.8" width="3" height="11.2" fill="#ef5350"/>
<rect x="794" y="180" width="3" height="10" fill="#26a69a"/>
<rect x="796" y="180" width="3" height="18.8" fill="#ef5350"/>
<rect x="799" y="182.5" width="3" height="13.7" fill="#26a69a"/>
<rect x="801" y="181.2" width="3" height="10" fill="#26a69a"/>
<rect x="803" y="182.5" width="3" height="12.5" fill="#ef5350"/>
<rect x="805" y="195" width="3" height="1.2" fill="#ef5350"/>
<rect x="807" y="196.2" width="3" height="5" fill="#ef5350"/>
<rect x="809" y="201.2" width="3" height="5" fill="#ef5350"/>
<rect x="811" y="201.2" width="3" height="11.3" fill="#26a69a"/>
<rect x="814" y="197.5" width="3" height="11.3" fill="#ef5350"/>
<rect x="816" y="185" width="3" height="13.8" fill="#26a69a"/>
<rect x="818" y="167.5" width="3" height="8.7" fill="#26a69a"/>
<rect x="820" y="161.2" width="3" height="1.3" fill="#ef5350"/>
<rect x="822" y="152.5" width="3" height="12.5" fill="#26a69a"/>
<rect x="824" y="148.8" width="3" height="7.4" fill="#26a69a"/>
<rect x="827" y="147.5" width="3" height="10" fill="#ef5350"/>
<rect x="829" y="123.8" width="3" height="30" fill="#26a69a"/>
<rect x="831" y="123" width="3" height="19.5" fill="#ef5350"/>
<rect x="833" y="138.8" width="3" height="8.7" fill="#26a69a"/>
<rect x="835" y="143.8" width="3" height="3.7" fill="#26a69a"/>
<rect x="837" y="138.8" width="3" height="7.4" fill="#ef5350"/>
<rect x="840" y="138.8" width="3" height="18.7" fill="#ef5350"/>
<rect x="842" y="147.5" width="3" height="11.3" fill="#26a69a"/>
<rect x="844" y="156.2" width="3" height="13.8" fill="#ef5350"/>
<rect x="846" y="165" width="3" height="7.5" fill="#ef5350"/>
<rect x="848" y="163.8" width="3" height="5" fill="#ef5350"/>
<rect x="850" y="151.2" width="3" height="13.8" fill="#26a69a"/>
<rect x="853" y="151.2" width="3" height="12.6" fill="#ef5350"/>
<rect x="855" y="161.2" width="3" height="2.6" fill="#26a69a"/>
<rect x="857" y="163.8" width="3" height="6.2" fill="#ef5350"/>
<rect x="859" y="158.8" width="3" height="11.2" fill="#26a69a"/>
<rect x="861" y="165" width="3" height="7.5" fill="#ef5350"/>
<rect x="863" y="171.2" width="3" height="5" fill="#ef5350"/>
<rect x="865" y="161.2" width="3" height="13.8" fill="#26a69a"/>
<rect x="868" y="161.2" width="3" height="6.3" fill="#26a69a"/>
<rect x="870" y="153.8" width="3" height="7.4" fill="#ef5350"/>
<rect x="872" y="127.5" width="3" height="25" fill="#26a69a"/>
<rect x="874" y="125" width="3" height="2" fill="#26a69a"/>
<rect x="876" y="125" width="3" height="12.5" fill="#ef5350"/>
<rect x="878" y="132.5" width="3" height="2.5" fill="#26a69a"/>
<rect x="881" y="133.8" width="3" height="6.2" fill="#ef5350"/>
<rect x="883" y="140" width="3" height="7.5" fill="#ef5350"/>
<rect x="885" y="142.5" width="3" height="3.7" fill="#26a69a"/>
<rect x="887" y="102.5" width="3" height="32.5" fill="#26a69a"/>
<rect x="889" y="92.5" width="3" height="7.5" fill="#26a69a"/>
<rect x="891" y="93" width="3" height="5.8" fill="#26a69a"/>
<rect x="894" y="92.5" width="3" height="17.5" fill="#ef5350"/>
<rect x="896" y="132.5" width="3" height="90" fill="#ef5350"/>
<rect x="898" y="227.5" width="3" height="8.7" fill="#26a69a"/>
<rect x="900" y="230" width="3" height="3.8" fill="#26a69a"/>
<rect x="902" y="231.2" width="3" height="3.3" fill="#26a69a"/>
<rect x="904" y="230" width="3" height="3.8" fill="#ef5350"/>
<rect x="907" y="217.5" width="3" height="12.5" fill="#26a69a"/>
<rect x="909" y="222.5" width="3" height="7.5" fill="#ef5350"/>
<rect x="911" y="231.2" width="3" height="5" fill="#ef5350"/>
</g>
</g>
<!-- tradingview logo -->
<circle cx="30.6" cy="412.9" r="15.9" fill="#2f3341"/>
<g transform="translate(6,390) scale(0.0888)">
<g fill="#38aef0"><circle cx="192" cy="276" r="38"/><circle cx="250" cy="229" r="48"/><circle cx="330" cy="251" r="36"/><circle cx="361" cy="290" r="34"/><rect x="168" y="262" width="215" height="63" rx="18"/></g>
<path d="M160 299L243 236L305 292L366 232" stroke="#2f3341" stroke-width="16" fill="none"/>
<circle cx="243" cy="236" r="13" fill="#2f3341"/><circle cx="305" cy="292" r="13" fill="#2f3341"/>
</g>
<!-- coinalyze icon -->
<g stroke="#f0f0f0" stroke-width="1.7" stroke-linecap="round">
<path d="M12.5 484H27.5M6.8 488.6H21.5M6.8 493.1H21.5M12.5 497.8H27.5"/>
</g>
</svg>
<div class="t" id="brand">Coinalyze</div>
</body></html>
